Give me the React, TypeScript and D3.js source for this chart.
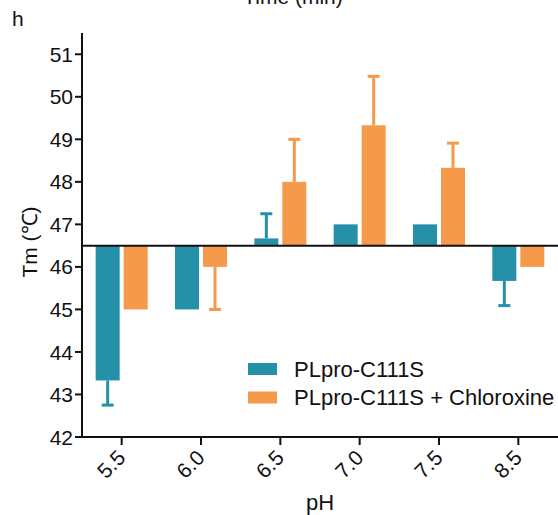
import React from "react";
import * as d3 from "d3";

const categories = ["5.5", "6.0", "6.5", "7.0", "7.5", "8.5"];
const series = ["PLpro-C111S", "PLpro-C111S + Chloroxine"];
const tealValues = [43.33, 45.0, 46.67, 47.0, 47.0, 45.67];
const tealErrors = [0.58, 0, 0.58, 0, 0, 0.58];
const orangeValues = [45.0, 46.0, 48.0, 49.33, 48.33, 46.0];
const orangeErrors = [0, 1.0, 1.0, 1.15, 0.58, 0];
const yTicks = [42, 43, 44, 45, 46, 47, 48, 49, 50, 51];
const baselineValue = 46.5;
const colors = ["#2591A8", "#F49A4A"];

const W = 558;
const H = 515;
const FONT = "Liberation Sans, Arial, sans-serif";

export default function App() {
  const x = d3.scaleBand<string>().domain(categories).range([82, 558]).padding(0);
  const inner = d3.scaleBand<string>().domain(series).range([-26, 26]).paddingInner(4 / 28);
  const y = d3.scaleLinear().domain([42, 51.5]).range([437, 33]);
  const y0 = y(baselineValue);

  const data = [
    { name: series[0], values: tealValues, errors: tealErrors, color: colors[0] },
    { name: series[1], values: orangeValues, errors: orangeErrors, color: colors[1] },
  ];

  return (
    <svg width={W} height={H} style={{ position: "absolute", left: 0, top: 0, background: "#fff" }} fontFamily={FONT}>
      <text x={293} y={4} fontSize={21} textAnchor="middle" fill="#111">Time (min)</text>
      <text x={12} y={26} fontSize={21} fill="#111">h</text>

      {data.map((s) =>
        categories.map((c, i) => {
          const cx = (x(c) as number) + x.bandwidth() / 2;
          const bx = cx + (inner(s.name) as number);
          const bw = inner.bandwidth();
          const v = s.values[i];
          const yv = y(v);
          const top = Math.min(yv, y0);
          const h = Math.abs(yv - y0);
          const e = s.errors[i];
          const dir = v >= baselineValue ? 1 : -1;
          const ye = y(v + dir * e);
          const mx = bx + bw / 2;
          return (
            <g key={s.name + c}>
              {e > 0 && (
                <g stroke={s.color} strokeWidth={3}>
                  <line x1={mx} x2={mx} y1={yv} y2={ye} />
                  <line x1={mx - 6} x2={mx + 6} y1={ye} y2={ye} />
                </g>
              )}
              <rect x={bx} y={top} width={bw} height={h} fill={s.color} />
            </g>
          );
        })
      )}

      {/* baseline */}
      <line x1={82} x2={558} y1={y0} y2={y0} stroke="#111" strokeWidth={2} />

      {/* y axis */}
      <line x1={82} x2={82} y1={y(51.5)} y2={438} stroke="#111" strokeWidth={2} />
      {yTicks.map((t) => (
        <g key={t}>
          <line x1={75} x2={82} y1={y(t)} y2={y(t)} stroke="#111" strokeWidth={2} />
          <text x={73} y={y(t)} dy="0.36em" fontSize={21} textAnchor="end" fill="#111">{t}</text>
        </g>
      ))}

      {/* x axis */}
      <line x1={81} x2={558} y1={437} y2={437} stroke="#111" strokeWidth={2} />
      {categories.map((c) => {
        const cx = (x(c) as number) + x.bandwidth() / 2;
        return (
          <g key={c}>
            <line x1={cx} x2={cx} y1={437} y2={445} stroke="#111" strokeWidth={2} />
            <text transform={`translate(${cx + 5},${459}) rotate(-45)`} fontSize={21} textAnchor="end" fill="#111">{c}</text>
          </g>
        );
      })}

      <text x={320} y={510} fontSize={22} textAnchor="middle" fill="#111">pH</text>
      <text transform={`translate(37,242) rotate(-90)`} fontSize={21} textAnchor="middle" fill="#111">Tm (℃)</text>

      {/* legend */}
      {series.map((s, i) => (
        <g key={s}>
          <rect x={248} y={363 + i * 28.5} width={29} height={12} fill={colors[i]} />
          <text x={294} y={377 + i * 28} fontSize={22} fill="#111">{s}</text>
        </g>
      ))}
    </svg>
  );
}
